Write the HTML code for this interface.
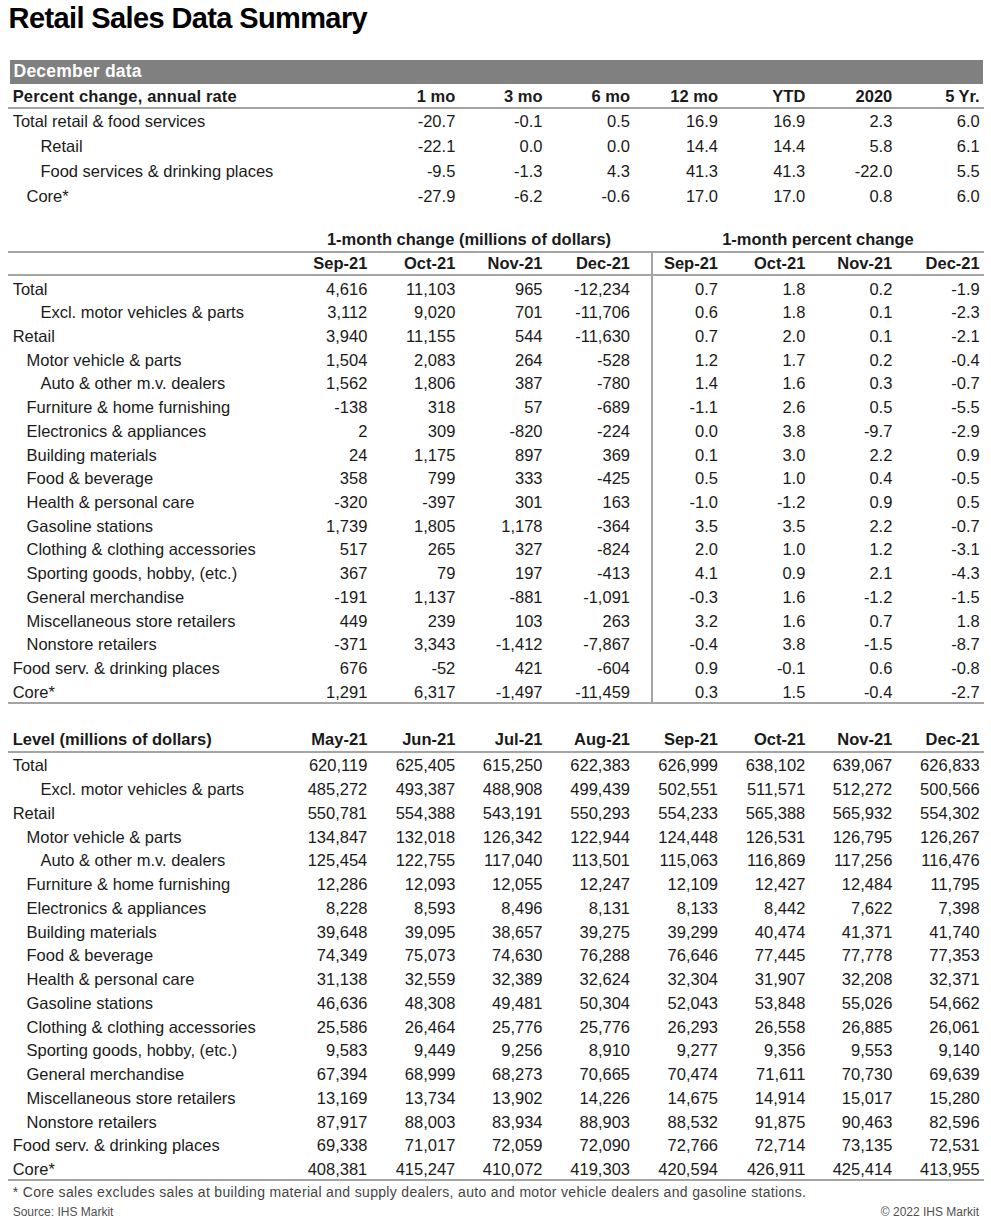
<!DOCTYPE html>
<html><head><meta charset="utf-8"><title>Retail Sales Data Summary</title>
<style>
html,body{margin:0;padding:0;background:#fff;}
body{width:991px;height:1224px;position:relative;overflow:hidden;font-family:"Liberation Sans",sans-serif;}
.t{position:absolute;white-space:nowrap;line-height:24px;}
.r{text-align:right;}
.c{text-align:center;}
.l{position:absolute;}
</style></head><body>
<div class="t" style="left:8.60px;top:5.85px;font-size:29px;font-weight:700;color:#000;letter-spacing:-0.62px">Retail Sales Data Summary</div>
<div class="l" style="left:10px;top:59.5px;width:972.5px;height:24.2px;background:#808080"></div>
<div class="t" style="left:13.60px;top:58.94px;font-size:17.5px;font-weight:700;color:#fff;letter-spacing:0.2px">December data</div>
<div class="t" style="left:12.70px;top:83.98px;font-size:16.5px;font-weight:700;color:#1a1a1a;letter-spacing:0.15px">Percent change, annual rate</div>
<div class="t r" style="right:535.70px;top:83.98px;font-size:16.5px;font-weight:700;color:#1a1a1a;">1 mo</div>
<div class="t r" style="right:448.50px;top:83.98px;font-size:16.5px;font-weight:700;color:#1a1a1a;">3 mo</div>
<div class="t r" style="right:361.00px;top:83.98px;font-size:16.5px;font-weight:700;color:#1a1a1a;">6 mo</div>
<div class="t r" style="right:273.00px;top:83.98px;font-size:16.5px;font-weight:700;color:#1a1a1a;">12 mo</div>
<div class="t r" style="right:185.70px;top:83.98px;font-size:16.5px;font-weight:700;color:#1a1a1a;">YTD</div>
<div class="t r" style="right:98.70px;top:83.98px;font-size:16.5px;font-weight:700;color:#1a1a1a;">2020</div>
<div class="t r" style="right:11.30px;top:83.98px;font-size:16.5px;font-weight:700;color:#1a1a1a;">5 Yr.</div>
<div class="l" style="left:8px;top:107.30px;width:975.50px;height:2px;background:#a4a4a4"></div>
<div class="t" style="left:12.70px;top:108.98px;font-size:16.5px;font-weight:400;color:#1a1a1a;">Total retail &amp; food services</div>
<div class="t r" style="right:535.70px;top:108.98px;font-size:16.5px;font-weight:400;color:#1a1a1a;">-20.7</div>
<div class="t r" style="right:448.50px;top:108.98px;font-size:16.5px;font-weight:400;color:#1a1a1a;">-0.1</div>
<div class="t r" style="right:361.00px;top:108.98px;font-size:16.5px;font-weight:400;color:#1a1a1a;">0.5</div>
<div class="t r" style="right:273.00px;top:108.98px;font-size:16.5px;font-weight:400;color:#1a1a1a;">16.9</div>
<div class="t r" style="right:185.70px;top:108.98px;font-size:16.5px;font-weight:400;color:#1a1a1a;">16.9</div>
<div class="t r" style="right:98.70px;top:108.98px;font-size:16.5px;font-weight:400;color:#1a1a1a;">2.3</div>
<div class="t r" style="right:11.30px;top:108.98px;font-size:16.5px;font-weight:400;color:#1a1a1a;">6.0</div>
<div class="t" style="left:40.40px;top:134.28px;font-size:16.5px;font-weight:400;color:#1a1a1a;">Retail</div>
<div class="t r" style="right:535.70px;top:134.28px;font-size:16.5px;font-weight:400;color:#1a1a1a;">-22.1</div>
<div class="t r" style="right:448.50px;top:134.28px;font-size:16.5px;font-weight:400;color:#1a1a1a;">0.0</div>
<div class="t r" style="right:361.00px;top:134.28px;font-size:16.5px;font-weight:400;color:#1a1a1a;">0.0</div>
<div class="t r" style="right:273.00px;top:134.28px;font-size:16.5px;font-weight:400;color:#1a1a1a;">14.4</div>
<div class="t r" style="right:185.70px;top:134.28px;font-size:16.5px;font-weight:400;color:#1a1a1a;">14.4</div>
<div class="t r" style="right:98.70px;top:134.28px;font-size:16.5px;font-weight:400;color:#1a1a1a;">5.8</div>
<div class="t r" style="right:11.30px;top:134.28px;font-size:16.5px;font-weight:400;color:#1a1a1a;">6.1</div>
<div class="t" style="left:40.40px;top:159.28px;font-size:16.5px;font-weight:400;color:#1a1a1a;">Food services &amp; drinking places</div>
<div class="t r" style="right:535.70px;top:159.28px;font-size:16.5px;font-weight:400;color:#1a1a1a;">-9.5</div>
<div class="t r" style="right:448.50px;top:159.28px;font-size:16.5px;font-weight:400;color:#1a1a1a;">-1.3</div>
<div class="t r" style="right:361.00px;top:159.28px;font-size:16.5px;font-weight:400;color:#1a1a1a;">4.3</div>
<div class="t r" style="right:273.00px;top:159.28px;font-size:16.5px;font-weight:400;color:#1a1a1a;">41.3</div>
<div class="t r" style="right:185.70px;top:159.28px;font-size:16.5px;font-weight:400;color:#1a1a1a;">41.3</div>
<div class="t r" style="right:98.70px;top:159.28px;font-size:16.5px;font-weight:400;color:#1a1a1a;">-22.0</div>
<div class="t r" style="right:11.30px;top:159.28px;font-size:16.5px;font-weight:400;color:#1a1a1a;">5.5</div>
<div class="t" style="left:26.50px;top:184.38px;font-size:16.5px;font-weight:400;color:#1a1a1a;">Core*</div>
<div class="t r" style="right:535.70px;top:184.38px;font-size:16.5px;font-weight:400;color:#1a1a1a;">-27.9</div>
<div class="t r" style="right:448.50px;top:184.38px;font-size:16.5px;font-weight:400;color:#1a1a1a;">-6.2</div>
<div class="t r" style="right:361.00px;top:184.38px;font-size:16.5px;font-weight:400;color:#1a1a1a;">-0.6</div>
<div class="t r" style="right:273.00px;top:184.38px;font-size:16.5px;font-weight:400;color:#1a1a1a;">17.0</div>
<div class="t r" style="right:185.70px;top:184.38px;font-size:16.5px;font-weight:400;color:#1a1a1a;">17.0</div>
<div class="t r" style="right:98.70px;top:184.38px;font-size:16.5px;font-weight:400;color:#1a1a1a;">0.8</div>
<div class="t r" style="right:11.30px;top:184.38px;font-size:16.5px;font-weight:400;color:#1a1a1a;">6.0</div>
<div class="t c" style="left:169.00px;width:600px;top:227.08px;font-size:16.5px;font-weight:700;color:#1a1a1a;">1-month change (millions of dollars)</div>
<div class="t c" style="left:518.00px;width:600px;top:227.08px;font-size:16.5px;font-weight:700;color:#1a1a1a;">1-month percent change</div>
<div class="l" style="left:8px;top:250.50px;width:975.50px;height:2px;background:#a4a4a4"></div>
<div class="t r" style="right:623.70px;top:251.28px;font-size:16.5px;font-weight:700;color:#1a1a1a;">Sep-21</div>
<div class="t r" style="right:535.70px;top:251.28px;font-size:16.5px;font-weight:700;color:#1a1a1a;">Oct-21</div>
<div class="t r" style="right:448.50px;top:251.28px;font-size:16.5px;font-weight:700;color:#1a1a1a;">Nov-21</div>
<div class="t r" style="right:361.00px;top:251.28px;font-size:16.5px;font-weight:700;color:#1a1a1a;">Dec-21</div>
<div class="t r" style="right:273.00px;top:251.28px;font-size:16.5px;font-weight:700;color:#1a1a1a;">Sep-21</div>
<div class="t r" style="right:185.70px;top:251.28px;font-size:16.5px;font-weight:700;color:#1a1a1a;">Oct-21</div>
<div class="t r" style="right:98.70px;top:251.28px;font-size:16.5px;font-weight:700;color:#1a1a1a;">Nov-21</div>
<div class="t r" style="right:11.30px;top:251.28px;font-size:16.5px;font-weight:700;color:#1a1a1a;">Dec-21</div>
<div class="l" style="left:8px;top:274.30px;width:975.50px;height:2px;background:#a4a4a4"></div>
<div class="l" style="left:651.00px;top:251.00px;width:2px;height:452.00px;background:#a4a4a4"></div>
<div class="t" style="left:12.70px;top:276.58px;font-size:16.5px;font-weight:400;color:#1a1a1a;">Total</div>
<div class="t r" style="right:623.70px;top:276.58px;font-size:16.5px;font-weight:400;color:#1a1a1a;">4,616</div>
<div class="t r" style="right:535.70px;top:276.58px;font-size:16.5px;font-weight:400;color:#1a1a1a;">11,103</div>
<div class="t r" style="right:448.50px;top:276.58px;font-size:16.5px;font-weight:400;color:#1a1a1a;">965</div>
<div class="t r" style="right:361.00px;top:276.58px;font-size:16.5px;font-weight:400;color:#1a1a1a;">-12,234</div>
<div class="t r" style="right:273.00px;top:276.58px;font-size:16.5px;font-weight:400;color:#1a1a1a;">0.7</div>
<div class="t r" style="right:185.70px;top:276.58px;font-size:16.5px;font-weight:400;color:#1a1a1a;">1.8</div>
<div class="t r" style="right:98.70px;top:276.58px;font-size:16.5px;font-weight:400;color:#1a1a1a;">0.2</div>
<div class="t r" style="right:11.30px;top:276.58px;font-size:16.5px;font-weight:400;color:#1a1a1a;">-1.9</div>
<div class="t" style="left:40.40px;top:300.29px;font-size:16.5px;font-weight:400;color:#1a1a1a;">Excl. motor vehicles &amp; parts</div>
<div class="t r" style="right:623.70px;top:300.29px;font-size:16.5px;font-weight:400;color:#1a1a1a;">3,112</div>
<div class="t r" style="right:535.70px;top:300.29px;font-size:16.5px;font-weight:400;color:#1a1a1a;">9,020</div>
<div class="t r" style="right:448.50px;top:300.29px;font-size:16.5px;font-weight:400;color:#1a1a1a;">701</div>
<div class="t r" style="right:361.00px;top:300.29px;font-size:16.5px;font-weight:400;color:#1a1a1a;">-11,706</div>
<div class="t r" style="right:273.00px;top:300.29px;font-size:16.5px;font-weight:400;color:#1a1a1a;">0.6</div>
<div class="t r" style="right:185.70px;top:300.29px;font-size:16.5px;font-weight:400;color:#1a1a1a;">1.8</div>
<div class="t r" style="right:98.70px;top:300.29px;font-size:16.5px;font-weight:400;color:#1a1a1a;">0.1</div>
<div class="t r" style="right:11.30px;top:300.29px;font-size:16.5px;font-weight:400;color:#1a1a1a;">-2.3</div>
<div class="t" style="left:12.70px;top:324.00px;font-size:16.5px;font-weight:400;color:#1a1a1a;">Retail</div>
<div class="t r" style="right:623.70px;top:324.00px;font-size:16.5px;font-weight:400;color:#1a1a1a;">3,940</div>
<div class="t r" style="right:535.70px;top:324.00px;font-size:16.5px;font-weight:400;color:#1a1a1a;">11,155</div>
<div class="t r" style="right:448.50px;top:324.00px;font-size:16.5px;font-weight:400;color:#1a1a1a;">544</div>
<div class="t r" style="right:361.00px;top:324.00px;font-size:16.5px;font-weight:400;color:#1a1a1a;">-11,630</div>
<div class="t r" style="right:273.00px;top:324.00px;font-size:16.5px;font-weight:400;color:#1a1a1a;">0.7</div>
<div class="t r" style="right:185.70px;top:324.00px;font-size:16.5px;font-weight:400;color:#1a1a1a;">2.0</div>
<div class="t r" style="right:98.70px;top:324.00px;font-size:16.5px;font-weight:400;color:#1a1a1a;">0.1</div>
<div class="t r" style="right:11.30px;top:324.00px;font-size:16.5px;font-weight:400;color:#1a1a1a;">-2.1</div>
<div class="t" style="left:26.50px;top:347.71px;font-size:16.5px;font-weight:400;color:#1a1a1a;">Motor vehicle &amp; parts</div>
<div class="t r" style="right:623.70px;top:347.71px;font-size:16.5px;font-weight:400;color:#1a1a1a;">1,504</div>
<div class="t r" style="right:535.70px;top:347.71px;font-size:16.5px;font-weight:400;color:#1a1a1a;">2,083</div>
<div class="t r" style="right:448.50px;top:347.71px;font-size:16.5px;font-weight:400;color:#1a1a1a;">264</div>
<div class="t r" style="right:361.00px;top:347.71px;font-size:16.5px;font-weight:400;color:#1a1a1a;">-528</div>
<div class="t r" style="right:273.00px;top:347.71px;font-size:16.5px;font-weight:400;color:#1a1a1a;">1.2</div>
<div class="t r" style="right:185.70px;top:347.71px;font-size:16.5px;font-weight:400;color:#1a1a1a;">1.7</div>
<div class="t r" style="right:98.70px;top:347.71px;font-size:16.5px;font-weight:400;color:#1a1a1a;">0.2</div>
<div class="t r" style="right:11.30px;top:347.71px;font-size:16.5px;font-weight:400;color:#1a1a1a;">-0.4</div>
<div class="t" style="left:40.40px;top:371.42px;font-size:16.5px;font-weight:400;color:#1a1a1a;">Auto &amp; other m.v. dealers</div>
<div class="t r" style="right:623.70px;top:371.42px;font-size:16.5px;font-weight:400;color:#1a1a1a;">1,562</div>
<div class="t r" style="right:535.70px;top:371.42px;font-size:16.5px;font-weight:400;color:#1a1a1a;">1,806</div>
<div class="t r" style="right:448.50px;top:371.42px;font-size:16.5px;font-weight:400;color:#1a1a1a;">387</div>
<div class="t r" style="right:361.00px;top:371.42px;font-size:16.5px;font-weight:400;color:#1a1a1a;">-780</div>
<div class="t r" style="right:273.00px;top:371.42px;font-size:16.5px;font-weight:400;color:#1a1a1a;">1.4</div>
<div class="t r" style="right:185.70px;top:371.42px;font-size:16.5px;font-weight:400;color:#1a1a1a;">1.6</div>
<div class="t r" style="right:98.70px;top:371.42px;font-size:16.5px;font-weight:400;color:#1a1a1a;">0.3</div>
<div class="t r" style="right:11.30px;top:371.42px;font-size:16.5px;font-weight:400;color:#1a1a1a;">-0.7</div>
<div class="t" style="left:26.50px;top:395.13px;font-size:16.5px;font-weight:400;color:#1a1a1a;">Furniture &amp; home furnishing</div>
<div class="t r" style="right:623.70px;top:395.13px;font-size:16.5px;font-weight:400;color:#1a1a1a;">-138</div>
<div class="t r" style="right:535.70px;top:395.13px;font-size:16.5px;font-weight:400;color:#1a1a1a;">318</div>
<div class="t r" style="right:448.50px;top:395.13px;font-size:16.5px;font-weight:400;color:#1a1a1a;">57</div>
<div class="t r" style="right:361.00px;top:395.13px;font-size:16.5px;font-weight:400;color:#1a1a1a;">-689</div>
<div class="t r" style="right:273.00px;top:395.13px;font-size:16.5px;font-weight:400;color:#1a1a1a;">-1.1</div>
<div class="t r" style="right:185.70px;top:395.13px;font-size:16.5px;font-weight:400;color:#1a1a1a;">2.6</div>
<div class="t r" style="right:98.70px;top:395.13px;font-size:16.5px;font-weight:400;color:#1a1a1a;">0.5</div>
<div class="t r" style="right:11.30px;top:395.13px;font-size:16.5px;font-weight:400;color:#1a1a1a;">-5.5</div>
<div class="t" style="left:26.50px;top:418.84px;font-size:16.5px;font-weight:400;color:#1a1a1a;">Electronics &amp; appliances</div>
<div class="t r" style="right:623.70px;top:418.84px;font-size:16.5px;font-weight:400;color:#1a1a1a;">2</div>
<div class="t r" style="right:535.70px;top:418.84px;font-size:16.5px;font-weight:400;color:#1a1a1a;">309</div>
<div class="t r" style="right:448.50px;top:418.84px;font-size:16.5px;font-weight:400;color:#1a1a1a;">-820</div>
<div class="t r" style="right:361.00px;top:418.84px;font-size:16.5px;font-weight:400;color:#1a1a1a;">-224</div>
<div class="t r" style="right:273.00px;top:418.84px;font-size:16.5px;font-weight:400;color:#1a1a1a;">0.0</div>
<div class="t r" style="right:185.70px;top:418.84px;font-size:16.5px;font-weight:400;color:#1a1a1a;">3.8</div>
<div class="t r" style="right:98.70px;top:418.84px;font-size:16.5px;font-weight:400;color:#1a1a1a;">-9.7</div>
<div class="t r" style="right:11.30px;top:418.84px;font-size:16.5px;font-weight:400;color:#1a1a1a;">-2.9</div>
<div class="t" style="left:26.50px;top:442.55px;font-size:16.5px;font-weight:400;color:#1a1a1a;">Building materials</div>
<div class="t r" style="right:623.70px;top:442.55px;font-size:16.5px;font-weight:400;color:#1a1a1a;">24</div>
<div class="t r" style="right:535.70px;top:442.55px;font-size:16.5px;font-weight:400;color:#1a1a1a;">1,175</div>
<div class="t r" style="right:448.50px;top:442.55px;font-size:16.5px;font-weight:400;color:#1a1a1a;">897</div>
<div class="t r" style="right:361.00px;top:442.55px;font-size:16.5px;font-weight:400;color:#1a1a1a;">369</div>
<div class="t r" style="right:273.00px;top:442.55px;font-size:16.5px;font-weight:400;color:#1a1a1a;">0.1</div>
<div class="t r" style="right:185.70px;top:442.55px;font-size:16.5px;font-weight:400;color:#1a1a1a;">3.0</div>
<div class="t r" style="right:98.70px;top:442.55px;font-size:16.5px;font-weight:400;color:#1a1a1a;">2.2</div>
<div class="t r" style="right:11.30px;top:442.55px;font-size:16.5px;font-weight:400;color:#1a1a1a;">0.9</div>
<div class="t" style="left:26.50px;top:466.26px;font-size:16.5px;font-weight:400;color:#1a1a1a;">Food &amp; beverage</div>
<div class="t r" style="right:623.70px;top:466.26px;font-size:16.5px;font-weight:400;color:#1a1a1a;">358</div>
<div class="t r" style="right:535.70px;top:466.26px;font-size:16.5px;font-weight:400;color:#1a1a1a;">799</div>
<div class="t r" style="right:448.50px;top:466.26px;font-size:16.5px;font-weight:400;color:#1a1a1a;">333</div>
<div class="t r" style="right:361.00px;top:466.26px;font-size:16.5px;font-weight:400;color:#1a1a1a;">-425</div>
<div class="t r" style="right:273.00px;top:466.26px;font-size:16.5px;font-weight:400;color:#1a1a1a;">0.5</div>
<div class="t r" style="right:185.70px;top:466.26px;font-size:16.5px;font-weight:400;color:#1a1a1a;">1.0</div>
<div class="t r" style="right:98.70px;top:466.26px;font-size:16.5px;font-weight:400;color:#1a1a1a;">0.4</div>
<div class="t r" style="right:11.30px;top:466.26px;font-size:16.5px;font-weight:400;color:#1a1a1a;">-0.5</div>
<div class="t" style="left:26.50px;top:489.97px;font-size:16.5px;font-weight:400;color:#1a1a1a;">Health &amp; personal care</div>
<div class="t r" style="right:623.70px;top:489.97px;font-size:16.5px;font-weight:400;color:#1a1a1a;">-320</div>
<div class="t r" style="right:535.70px;top:489.97px;font-size:16.5px;font-weight:400;color:#1a1a1a;">-397</div>
<div class="t r" style="right:448.50px;top:489.97px;font-size:16.5px;font-weight:400;color:#1a1a1a;">301</div>
<div class="t r" style="right:361.00px;top:489.97px;font-size:16.5px;font-weight:400;color:#1a1a1a;">163</div>
<div class="t r" style="right:273.00px;top:489.97px;font-size:16.5px;font-weight:400;color:#1a1a1a;">-1.0</div>
<div class="t r" style="right:185.70px;top:489.97px;font-size:16.5px;font-weight:400;color:#1a1a1a;">-1.2</div>
<div class="t r" style="right:98.70px;top:489.97px;font-size:16.5px;font-weight:400;color:#1a1a1a;">0.9</div>
<div class="t r" style="right:11.30px;top:489.97px;font-size:16.5px;font-weight:400;color:#1a1a1a;">0.5</div>
<div class="t" style="left:26.50px;top:513.68px;font-size:16.5px;font-weight:400;color:#1a1a1a;">Gasoline stations</div>
<div class="t r" style="right:623.70px;top:513.68px;font-size:16.5px;font-weight:400;color:#1a1a1a;">1,739</div>
<div class="t r" style="right:535.70px;top:513.68px;font-size:16.5px;font-weight:400;color:#1a1a1a;">1,805</div>
<div class="t r" style="right:448.50px;top:513.68px;font-size:16.5px;font-weight:400;color:#1a1a1a;">1,178</div>
<div class="t r" style="right:361.00px;top:513.68px;font-size:16.5px;font-weight:400;color:#1a1a1a;">-364</div>
<div class="t r" style="right:273.00px;top:513.68px;font-size:16.5px;font-weight:400;color:#1a1a1a;">3.5</div>
<div class="t r" style="right:185.70px;top:513.68px;font-size:16.5px;font-weight:400;color:#1a1a1a;">3.5</div>
<div class="t r" style="right:98.70px;top:513.68px;font-size:16.5px;font-weight:400;color:#1a1a1a;">2.2</div>
<div class="t r" style="right:11.30px;top:513.68px;font-size:16.5px;font-weight:400;color:#1a1a1a;">-0.7</div>
<div class="t" style="left:26.50px;top:537.39px;font-size:16.5px;font-weight:400;color:#1a1a1a;">Clothing &amp; clothing accessories</div>
<div class="t r" style="right:623.70px;top:537.39px;font-size:16.5px;font-weight:400;color:#1a1a1a;">517</div>
<div class="t r" style="right:535.70px;top:537.39px;font-size:16.5px;font-weight:400;color:#1a1a1a;">265</div>
<div class="t r" style="right:448.50px;top:537.39px;font-size:16.5px;font-weight:400;color:#1a1a1a;">327</div>
<div class="t r" style="right:361.00px;top:537.39px;font-size:16.5px;font-weight:400;color:#1a1a1a;">-824</div>
<div class="t r" style="right:273.00px;top:537.39px;font-size:16.5px;font-weight:400;color:#1a1a1a;">2.0</div>
<div class="t r" style="right:185.70px;top:537.39px;font-size:16.5px;font-weight:400;color:#1a1a1a;">1.0</div>
<div class="t r" style="right:98.70px;top:537.39px;font-size:16.5px;font-weight:400;color:#1a1a1a;">1.2</div>
<div class="t r" style="right:11.30px;top:537.39px;font-size:16.5px;font-weight:400;color:#1a1a1a;">-3.1</div>
<div class="t" style="left:26.50px;top:561.10px;font-size:16.5px;font-weight:400;color:#1a1a1a;">Sporting goods, hobby, (etc.)</div>
<div class="t r" style="right:623.70px;top:561.10px;font-size:16.5px;font-weight:400;color:#1a1a1a;">367</div>
<div class="t r" style="right:535.70px;top:561.10px;font-size:16.5px;font-weight:400;color:#1a1a1a;">79</div>
<div class="t r" style="right:448.50px;top:561.10px;font-size:16.5px;font-weight:400;color:#1a1a1a;">197</div>
<div class="t r" style="right:361.00px;top:561.10px;font-size:16.5px;font-weight:400;color:#1a1a1a;">-413</div>
<div class="t r" style="right:273.00px;top:561.10px;font-size:16.5px;font-weight:400;color:#1a1a1a;">4.1</div>
<div class="t r" style="right:185.70px;top:561.10px;font-size:16.5px;font-weight:400;color:#1a1a1a;">0.9</div>
<div class="t r" style="right:98.70px;top:561.10px;font-size:16.5px;font-weight:400;color:#1a1a1a;">2.1</div>
<div class="t r" style="right:11.30px;top:561.10px;font-size:16.5px;font-weight:400;color:#1a1a1a;">-4.3</div>
<div class="t" style="left:26.50px;top:584.81px;font-size:16.5px;font-weight:400;color:#1a1a1a;">General merchandise</div>
<div class="t r" style="right:623.70px;top:584.81px;font-size:16.5px;font-weight:400;color:#1a1a1a;">-191</div>
<div class="t r" style="right:535.70px;top:584.81px;font-size:16.5px;font-weight:400;color:#1a1a1a;">1,137</div>
<div class="t r" style="right:448.50px;top:584.81px;font-size:16.5px;font-weight:400;color:#1a1a1a;">-881</div>
<div class="t r" style="right:361.00px;top:584.81px;font-size:16.5px;font-weight:400;color:#1a1a1a;">-1,091</div>
<div class="t r" style="right:273.00px;top:584.81px;font-size:16.5px;font-weight:400;color:#1a1a1a;">-0.3</div>
<div class="t r" style="right:185.70px;top:584.81px;font-size:16.5px;font-weight:400;color:#1a1a1a;">1.6</div>
<div class="t r" style="right:98.70px;top:584.81px;font-size:16.5px;font-weight:400;color:#1a1a1a;">-1.2</div>
<div class="t r" style="right:11.30px;top:584.81px;font-size:16.5px;font-weight:400;color:#1a1a1a;">-1.5</div>
<div class="t" style="left:26.50px;top:608.52px;font-size:16.5px;font-weight:400;color:#1a1a1a;">Miscellaneous store retailers</div>
<div class="t r" style="right:623.70px;top:608.52px;font-size:16.5px;font-weight:400;color:#1a1a1a;">449</div>
<div class="t r" style="right:535.70px;top:608.52px;font-size:16.5px;font-weight:400;color:#1a1a1a;">239</div>
<div class="t r" style="right:448.50px;top:608.52px;font-size:16.5px;font-weight:400;color:#1a1a1a;">103</div>
<div class="t r" style="right:361.00px;top:608.52px;font-size:16.5px;font-weight:400;color:#1a1a1a;">263</div>
<div class="t r" style="right:273.00px;top:608.52px;font-size:16.5px;font-weight:400;color:#1a1a1a;">3.2</div>
<div class="t r" style="right:185.70px;top:608.52px;font-size:16.5px;font-weight:400;color:#1a1a1a;">1.6</div>
<div class="t r" style="right:98.70px;top:608.52px;font-size:16.5px;font-weight:400;color:#1a1a1a;">0.7</div>
<div class="t r" style="right:11.30px;top:608.52px;font-size:16.5px;font-weight:400;color:#1a1a1a;">1.8</div>
<div class="t" style="left:26.50px;top:632.23px;font-size:16.5px;font-weight:400;color:#1a1a1a;">Nonstore retailers</div>
<div class="t r" style="right:623.70px;top:632.23px;font-size:16.5px;font-weight:400;color:#1a1a1a;">-371</div>
<div class="t r" style="right:535.70px;top:632.23px;font-size:16.5px;font-weight:400;color:#1a1a1a;">3,343</div>
<div class="t r" style="right:448.50px;top:632.23px;font-size:16.5px;font-weight:400;color:#1a1a1a;">-1,412</div>
<div class="t r" style="right:361.00px;top:632.23px;font-size:16.5px;font-weight:400;color:#1a1a1a;">-7,867</div>
<div class="t r" style="right:273.00px;top:632.23px;font-size:16.5px;font-weight:400;color:#1a1a1a;">-0.4</div>
<div class="t r" style="right:185.70px;top:632.23px;font-size:16.5px;font-weight:400;color:#1a1a1a;">3.8</div>
<div class="t r" style="right:98.70px;top:632.23px;font-size:16.5px;font-weight:400;color:#1a1a1a;">-1.5</div>
<div class="t r" style="right:11.30px;top:632.23px;font-size:16.5px;font-weight:400;color:#1a1a1a;">-8.7</div>
<div class="t" style="left:12.70px;top:655.94px;font-size:16.5px;font-weight:400;color:#1a1a1a;">Food serv. &amp; drinking places</div>
<div class="t r" style="right:623.70px;top:655.94px;font-size:16.5px;font-weight:400;color:#1a1a1a;">676</div>
<div class="t r" style="right:535.70px;top:655.94px;font-size:16.5px;font-weight:400;color:#1a1a1a;">-52</div>
<div class="t r" style="right:448.50px;top:655.94px;font-size:16.5px;font-weight:400;color:#1a1a1a;">421</div>
<div class="t r" style="right:361.00px;top:655.94px;font-size:16.5px;font-weight:400;color:#1a1a1a;">-604</div>
<div class="t r" style="right:273.00px;top:655.94px;font-size:16.5px;font-weight:400;color:#1a1a1a;">0.9</div>
<div class="t r" style="right:185.70px;top:655.94px;font-size:16.5px;font-weight:400;color:#1a1a1a;">-0.1</div>
<div class="t r" style="right:98.70px;top:655.94px;font-size:16.5px;font-weight:400;color:#1a1a1a;">0.6</div>
<div class="t r" style="right:11.30px;top:655.94px;font-size:16.5px;font-weight:400;color:#1a1a1a;">-0.8</div>
<div class="t" style="left:12.70px;top:679.65px;font-size:16.5px;font-weight:400;color:#1a1a1a;">Core*</div>
<div class="t r" style="right:623.70px;top:679.65px;font-size:16.5px;font-weight:400;color:#1a1a1a;">1,291</div>
<div class="t r" style="right:535.70px;top:679.65px;font-size:16.5px;font-weight:400;color:#1a1a1a;">6,317</div>
<div class="t r" style="right:448.50px;top:679.65px;font-size:16.5px;font-weight:400;color:#1a1a1a;">-1,497</div>
<div class="t r" style="right:361.00px;top:679.65px;font-size:16.5px;font-weight:400;color:#1a1a1a;">-11,459</div>
<div class="t r" style="right:273.00px;top:679.65px;font-size:16.5px;font-weight:400;color:#1a1a1a;">0.3</div>
<div class="t r" style="right:185.70px;top:679.65px;font-size:16.5px;font-weight:400;color:#1a1a1a;">1.5</div>
<div class="t r" style="right:98.70px;top:679.65px;font-size:16.5px;font-weight:400;color:#1a1a1a;">-0.4</div>
<div class="t r" style="right:11.30px;top:679.65px;font-size:16.5px;font-weight:400;color:#1a1a1a;">-2.7</div>
<div class="l" style="left:8px;top:701.90px;width:975.50px;height:2px;background:#a4a4a4"></div>
<div class="t" style="left:12.70px;top:727.48px;font-size:16.5px;font-weight:700;color:#1a1a1a;">Level (millions of dollars)</div>
<div class="t r" style="right:623.70px;top:727.48px;font-size:16.5px;font-weight:700;color:#1a1a1a;">May-21</div>
<div class="t r" style="right:535.70px;top:727.48px;font-size:16.5px;font-weight:700;color:#1a1a1a;">Jun-21</div>
<div class="t r" style="right:448.50px;top:727.48px;font-size:16.5px;font-weight:700;color:#1a1a1a;">Jul-21</div>
<div class="t r" style="right:361.00px;top:727.48px;font-size:16.5px;font-weight:700;color:#1a1a1a;">Aug-21</div>
<div class="t r" style="right:273.00px;top:727.48px;font-size:16.5px;font-weight:700;color:#1a1a1a;">Sep-21</div>
<div class="t r" style="right:185.70px;top:727.48px;font-size:16.5px;font-weight:700;color:#1a1a1a;">Oct-21</div>
<div class="t r" style="right:98.70px;top:727.48px;font-size:16.5px;font-weight:700;color:#1a1a1a;">Nov-21</div>
<div class="t r" style="right:11.30px;top:727.48px;font-size:16.5px;font-weight:700;color:#1a1a1a;">Dec-21</div>
<div class="l" style="left:8px;top:750.90px;width:975.50px;height:2px;background:#a4a4a4"></div>
<div class="t" style="left:12.70px;top:753.38px;font-size:16.5px;font-weight:400;color:#1a1a1a;">Total</div>
<div class="t r" style="right:623.70px;top:753.38px;font-size:16.5px;font-weight:400;color:#1a1a1a;">620,119</div>
<div class="t r" style="right:535.70px;top:753.38px;font-size:16.5px;font-weight:400;color:#1a1a1a;">625,405</div>
<div class="t r" style="right:448.50px;top:753.38px;font-size:16.5px;font-weight:400;color:#1a1a1a;">615,250</div>
<div class="t r" style="right:361.00px;top:753.38px;font-size:16.5px;font-weight:400;color:#1a1a1a;">622,383</div>
<div class="t r" style="right:273.00px;top:753.38px;font-size:16.5px;font-weight:400;color:#1a1a1a;">626,999</div>
<div class="t r" style="right:185.70px;top:753.38px;font-size:16.5px;font-weight:400;color:#1a1a1a;">638,102</div>
<div class="t r" style="right:98.70px;top:753.38px;font-size:16.5px;font-weight:400;color:#1a1a1a;">639,067</div>
<div class="t r" style="right:11.30px;top:753.38px;font-size:16.5px;font-weight:400;color:#1a1a1a;">626,833</div>
<div class="t" style="left:40.40px;top:777.13px;font-size:16.5px;font-weight:400;color:#1a1a1a;">Excl. motor vehicles &amp; parts</div>
<div class="t r" style="right:623.70px;top:777.13px;font-size:16.5px;font-weight:400;color:#1a1a1a;">485,272</div>
<div class="t r" style="right:535.70px;top:777.13px;font-size:16.5px;font-weight:400;color:#1a1a1a;">493,387</div>
<div class="t r" style="right:448.50px;top:777.13px;font-size:16.5px;font-weight:400;color:#1a1a1a;">488,908</div>
<div class="t r" style="right:361.00px;top:777.13px;font-size:16.5px;font-weight:400;color:#1a1a1a;">499,439</div>
<div class="t r" style="right:273.00px;top:777.13px;font-size:16.5px;font-weight:400;color:#1a1a1a;">502,551</div>
<div class="t r" style="right:185.70px;top:777.13px;font-size:16.5px;font-weight:400;color:#1a1a1a;">511,571</div>
<div class="t r" style="right:98.70px;top:777.13px;font-size:16.5px;font-weight:400;color:#1a1a1a;">512,272</div>
<div class="t r" style="right:11.30px;top:777.13px;font-size:16.5px;font-weight:400;color:#1a1a1a;">500,566</div>
<div class="t" style="left:12.70px;top:800.88px;font-size:16.5px;font-weight:400;color:#1a1a1a;">Retail</div>
<div class="t r" style="right:623.70px;top:800.88px;font-size:16.5px;font-weight:400;color:#1a1a1a;">550,781</div>
<div class="t r" style="right:535.70px;top:800.88px;font-size:16.5px;font-weight:400;color:#1a1a1a;">554,388</div>
<div class="t r" style="right:448.50px;top:800.88px;font-size:16.5px;font-weight:400;color:#1a1a1a;">543,191</div>
<div class="t r" style="right:361.00px;top:800.88px;font-size:16.5px;font-weight:400;color:#1a1a1a;">550,293</div>
<div class="t r" style="right:273.00px;top:800.88px;font-size:16.5px;font-weight:400;color:#1a1a1a;">554,233</div>
<div class="t r" style="right:185.70px;top:800.88px;font-size:16.5px;font-weight:400;color:#1a1a1a;">565,388</div>
<div class="t r" style="right:98.70px;top:800.88px;font-size:16.5px;font-weight:400;color:#1a1a1a;">565,932</div>
<div class="t r" style="right:11.30px;top:800.88px;font-size:16.5px;font-weight:400;color:#1a1a1a;">554,302</div>
<div class="t" style="left:26.50px;top:824.63px;font-size:16.5px;font-weight:400;color:#1a1a1a;">Motor vehicle &amp; parts</div>
<div class="t r" style="right:623.70px;top:824.63px;font-size:16.5px;font-weight:400;color:#1a1a1a;">134,847</div>
<div class="t r" style="right:535.70px;top:824.63px;font-size:16.5px;font-weight:400;color:#1a1a1a;">132,018</div>
<div class="t r" style="right:448.50px;top:824.63px;font-size:16.5px;font-weight:400;color:#1a1a1a;">126,342</div>
<div class="t r" style="right:361.00px;top:824.63px;font-size:16.5px;font-weight:400;color:#1a1a1a;">122,944</div>
<div class="t r" style="right:273.00px;top:824.63px;font-size:16.5px;font-weight:400;color:#1a1a1a;">124,448</div>
<div class="t r" style="right:185.70px;top:824.63px;font-size:16.5px;font-weight:400;color:#1a1a1a;">126,531</div>
<div class="t r" style="right:98.70px;top:824.63px;font-size:16.5px;font-weight:400;color:#1a1a1a;">126,795</div>
<div class="t r" style="right:11.30px;top:824.63px;font-size:16.5px;font-weight:400;color:#1a1a1a;">126,267</div>
<div class="t" style="left:40.40px;top:848.38px;font-size:16.5px;font-weight:400;color:#1a1a1a;">Auto &amp; other m.v. dealers</div>
<div class="t r" style="right:623.70px;top:848.38px;font-size:16.5px;font-weight:400;color:#1a1a1a;">125,454</div>
<div class="t r" style="right:535.70px;top:848.38px;font-size:16.5px;font-weight:400;color:#1a1a1a;">122,755</div>
<div class="t r" style="right:448.50px;top:848.38px;font-size:16.5px;font-weight:400;color:#1a1a1a;">117,040</div>
<div class="t r" style="right:361.00px;top:848.38px;font-size:16.5px;font-weight:400;color:#1a1a1a;">113,501</div>
<div class="t r" style="right:273.00px;top:848.38px;font-size:16.5px;font-weight:400;color:#1a1a1a;">115,063</div>
<div class="t r" style="right:185.70px;top:848.38px;font-size:16.5px;font-weight:400;color:#1a1a1a;">116,869</div>
<div class="t r" style="right:98.70px;top:848.38px;font-size:16.5px;font-weight:400;color:#1a1a1a;">117,256</div>
<div class="t r" style="right:11.30px;top:848.38px;font-size:16.5px;font-weight:400;color:#1a1a1a;">116,476</div>
<div class="t" style="left:26.50px;top:872.13px;font-size:16.5px;font-weight:400;color:#1a1a1a;">Furniture &amp; home furnishing</div>
<div class="t r" style="right:623.70px;top:872.13px;font-size:16.5px;font-weight:400;color:#1a1a1a;">12,286</div>
<div class="t r" style="right:535.70px;top:872.13px;font-size:16.5px;font-weight:400;color:#1a1a1a;">12,093</div>
<div class="t r" style="right:448.50px;top:872.13px;font-size:16.5px;font-weight:400;color:#1a1a1a;">12,055</div>
<div class="t r" style="right:361.00px;top:872.13px;font-size:16.5px;font-weight:400;color:#1a1a1a;">12,247</div>
<div class="t r" style="right:273.00px;top:872.13px;font-size:16.5px;font-weight:400;color:#1a1a1a;">12,109</div>
<div class="t r" style="right:185.70px;top:872.13px;font-size:16.5px;font-weight:400;color:#1a1a1a;">12,427</div>
<div class="t r" style="right:98.70px;top:872.13px;font-size:16.5px;font-weight:400;color:#1a1a1a;">12,484</div>
<div class="t r" style="right:11.30px;top:872.13px;font-size:16.5px;font-weight:400;color:#1a1a1a;">11,795</div>
<div class="t" style="left:26.50px;top:895.88px;font-size:16.5px;font-weight:400;color:#1a1a1a;">Electronics &amp; appliances</div>
<div class="t r" style="right:623.70px;top:895.88px;font-size:16.5px;font-weight:400;color:#1a1a1a;">8,228</div>
<div class="t r" style="right:535.70px;top:895.88px;font-size:16.5px;font-weight:400;color:#1a1a1a;">8,593</div>
<div class="t r" style="right:448.50px;top:895.88px;font-size:16.5px;font-weight:400;color:#1a1a1a;">8,496</div>
<div class="t r" style="right:361.00px;top:895.88px;font-size:16.5px;font-weight:400;color:#1a1a1a;">8,131</div>
<div class="t r" style="right:273.00px;top:895.88px;font-size:16.5px;font-weight:400;color:#1a1a1a;">8,133</div>
<div class="t r" style="right:185.70px;top:895.88px;font-size:16.5px;font-weight:400;color:#1a1a1a;">8,442</div>
<div class="t r" style="right:98.70px;top:895.88px;font-size:16.5px;font-weight:400;color:#1a1a1a;">7,622</div>
<div class="t r" style="right:11.30px;top:895.88px;font-size:16.5px;font-weight:400;color:#1a1a1a;">7,398</div>
<div class="t" style="left:26.50px;top:919.63px;font-size:16.5px;font-weight:400;color:#1a1a1a;">Building materials</div>
<div class="t r" style="right:623.70px;top:919.63px;font-size:16.5px;font-weight:400;color:#1a1a1a;">39,648</div>
<div class="t r" style="right:535.70px;top:919.63px;font-size:16.5px;font-weight:400;color:#1a1a1a;">39,095</div>
<div class="t r" style="right:448.50px;top:919.63px;font-size:16.5px;font-weight:400;color:#1a1a1a;">38,657</div>
<div class="t r" style="right:361.00px;top:919.63px;font-size:16.5px;font-weight:400;color:#1a1a1a;">39,275</div>
<div class="t r" style="right:273.00px;top:919.63px;font-size:16.5px;font-weight:400;color:#1a1a1a;">39,299</div>
<div class="t r" style="right:185.70px;top:919.63px;font-size:16.5px;font-weight:400;color:#1a1a1a;">40,474</div>
<div class="t r" style="right:98.70px;top:919.63px;font-size:16.5px;font-weight:400;color:#1a1a1a;">41,371</div>
<div class="t r" style="right:11.30px;top:919.63px;font-size:16.5px;font-weight:400;color:#1a1a1a;">41,740</div>
<div class="t" style="left:26.50px;top:943.38px;font-size:16.5px;font-weight:400;color:#1a1a1a;">Food &amp; beverage</div>
<div class="t r" style="right:623.70px;top:943.38px;font-size:16.5px;font-weight:400;color:#1a1a1a;">74,349</div>
<div class="t r" style="right:535.70px;top:943.38px;font-size:16.5px;font-weight:400;color:#1a1a1a;">75,073</div>
<div class="t r" style="right:448.50px;top:943.38px;font-size:16.5px;font-weight:400;color:#1a1a1a;">74,630</div>
<div class="t r" style="right:361.00px;top:943.38px;font-size:16.5px;font-weight:400;color:#1a1a1a;">76,288</div>
<div class="t r" style="right:273.00px;top:943.38px;font-size:16.5px;font-weight:400;color:#1a1a1a;">76,646</div>
<div class="t r" style="right:185.70px;top:943.38px;font-size:16.5px;font-weight:400;color:#1a1a1a;">77,445</div>
<div class="t r" style="right:98.70px;top:943.38px;font-size:16.5px;font-weight:400;color:#1a1a1a;">77,778</div>
<div class="t r" style="right:11.30px;top:943.38px;font-size:16.5px;font-weight:400;color:#1a1a1a;">77,353</div>
<div class="t" style="left:26.50px;top:967.13px;font-size:16.5px;font-weight:400;color:#1a1a1a;">Health &amp; personal care</div>
<div class="t r" style="right:623.70px;top:967.13px;font-size:16.5px;font-weight:400;color:#1a1a1a;">31,138</div>
<div class="t r" style="right:535.70px;top:967.13px;font-size:16.5px;font-weight:400;color:#1a1a1a;">32,559</div>
<div class="t r" style="right:448.50px;top:967.13px;font-size:16.5px;font-weight:400;color:#1a1a1a;">32,389</div>
<div class="t r" style="right:361.00px;top:967.13px;font-size:16.5px;font-weight:400;color:#1a1a1a;">32,624</div>
<div class="t r" style="right:273.00px;top:967.13px;font-size:16.5px;font-weight:400;color:#1a1a1a;">32,304</div>
<div class="t r" style="right:185.70px;top:967.13px;font-size:16.5px;font-weight:400;color:#1a1a1a;">31,907</div>
<div class="t r" style="right:98.70px;top:967.13px;font-size:16.5px;font-weight:400;color:#1a1a1a;">32,208</div>
<div class="t r" style="right:11.30px;top:967.13px;font-size:16.5px;font-weight:400;color:#1a1a1a;">32,371</div>
<div class="t" style="left:26.50px;top:990.88px;font-size:16.5px;font-weight:400;color:#1a1a1a;">Gasoline stations</div>
<div class="t r" style="right:623.70px;top:990.88px;font-size:16.5px;font-weight:400;color:#1a1a1a;">46,636</div>
<div class="t r" style="right:535.70px;top:990.88px;font-size:16.5px;font-weight:400;color:#1a1a1a;">48,308</div>
<div class="t r" style="right:448.50px;top:990.88px;font-size:16.5px;font-weight:400;color:#1a1a1a;">49,481</div>
<div class="t r" style="right:361.00px;top:990.88px;font-size:16.5px;font-weight:400;color:#1a1a1a;">50,304</div>
<div class="t r" style="right:273.00px;top:990.88px;font-size:16.5px;font-weight:400;color:#1a1a1a;">52,043</div>
<div class="t r" style="right:185.70px;top:990.88px;font-size:16.5px;font-weight:400;color:#1a1a1a;">53,848</div>
<div class="t r" style="right:98.70px;top:990.88px;font-size:16.5px;font-weight:400;color:#1a1a1a;">55,026</div>
<div class="t r" style="right:11.30px;top:990.88px;font-size:16.5px;font-weight:400;color:#1a1a1a;">54,662</div>
<div class="t" style="left:26.50px;top:1014.63px;font-size:16.5px;font-weight:400;color:#1a1a1a;">Clothing &amp; clothing accessories</div>
<div class="t r" style="right:623.70px;top:1014.63px;font-size:16.5px;font-weight:400;color:#1a1a1a;">25,586</div>
<div class="t r" style="right:535.70px;top:1014.63px;font-size:16.5px;font-weight:400;color:#1a1a1a;">26,464</div>
<div class="t r" style="right:448.50px;top:1014.63px;font-size:16.5px;font-weight:400;color:#1a1a1a;">25,776</div>
<div class="t r" style="right:361.00px;top:1014.63px;font-size:16.5px;font-weight:400;color:#1a1a1a;">25,776</div>
<div class="t r" style="right:273.00px;top:1014.63px;font-size:16.5px;font-weight:400;color:#1a1a1a;">26,293</div>
<div class="t r" style="right:185.70px;top:1014.63px;font-size:16.5px;font-weight:400;color:#1a1a1a;">26,558</div>
<div class="t r" style="right:98.70px;top:1014.63px;font-size:16.5px;font-weight:400;color:#1a1a1a;">26,885</div>
<div class="t r" style="right:11.30px;top:1014.63px;font-size:16.5px;font-weight:400;color:#1a1a1a;">26,061</div>
<div class="t" style="left:26.50px;top:1038.38px;font-size:16.5px;font-weight:400;color:#1a1a1a;">Sporting goods, hobby, (etc.)</div>
<div class="t r" style="right:623.70px;top:1038.38px;font-size:16.5px;font-weight:400;color:#1a1a1a;">9,583</div>
<div class="t r" style="right:535.70px;top:1038.38px;font-size:16.5px;font-weight:400;color:#1a1a1a;">9,449</div>
<div class="t r" style="right:448.50px;top:1038.38px;font-size:16.5px;font-weight:400;color:#1a1a1a;">9,256</div>
<div class="t r" style="right:361.00px;top:1038.38px;font-size:16.5px;font-weight:400;color:#1a1a1a;">8,910</div>
<div class="t r" style="right:273.00px;top:1038.38px;font-size:16.5px;font-weight:400;color:#1a1a1a;">9,277</div>
<div class="t r" style="right:185.70px;top:1038.38px;font-size:16.5px;font-weight:400;color:#1a1a1a;">9,356</div>
<div class="t r" style="right:98.70px;top:1038.38px;font-size:16.5px;font-weight:400;color:#1a1a1a;">9,553</div>
<div class="t r" style="right:11.30px;top:1038.38px;font-size:16.5px;font-weight:400;color:#1a1a1a;">9,140</div>
<div class="t" style="left:26.50px;top:1062.13px;font-size:16.5px;font-weight:400;color:#1a1a1a;">General merchandise</div>
<div class="t r" style="right:623.70px;top:1062.13px;font-size:16.5px;font-weight:400;color:#1a1a1a;">67,394</div>
<div class="t r" style="right:535.70px;top:1062.13px;font-size:16.5px;font-weight:400;color:#1a1a1a;">68,999</div>
<div class="t r" style="right:448.50px;top:1062.13px;font-size:16.5px;font-weight:400;color:#1a1a1a;">68,273</div>
<div class="t r" style="right:361.00px;top:1062.13px;font-size:16.5px;font-weight:400;color:#1a1a1a;">70,665</div>
<div class="t r" style="right:273.00px;top:1062.13px;font-size:16.5px;font-weight:400;color:#1a1a1a;">70,474</div>
<div class="t r" style="right:185.70px;top:1062.13px;font-size:16.5px;font-weight:400;color:#1a1a1a;">71,611</div>
<div class="t r" style="right:98.70px;top:1062.13px;font-size:16.5px;font-weight:400;color:#1a1a1a;">70,730</div>
<div class="t r" style="right:11.30px;top:1062.13px;font-size:16.5px;font-weight:400;color:#1a1a1a;">69,639</div>
<div class="t" style="left:26.50px;top:1085.88px;font-size:16.5px;font-weight:400;color:#1a1a1a;">Miscellaneous store retailers</div>
<div class="t r" style="right:623.70px;top:1085.88px;font-size:16.5px;font-weight:400;color:#1a1a1a;">13,169</div>
<div class="t r" style="right:535.70px;top:1085.88px;font-size:16.5px;font-weight:400;color:#1a1a1a;">13,734</div>
<div class="t r" style="right:448.50px;top:1085.88px;font-size:16.5px;font-weight:400;color:#1a1a1a;">13,902</div>
<div class="t r" style="right:361.00px;top:1085.88px;font-size:16.5px;font-weight:400;color:#1a1a1a;">14,226</div>
<div class="t r" style="right:273.00px;top:1085.88px;font-size:16.5px;font-weight:400;color:#1a1a1a;">14,675</div>
<div class="t r" style="right:185.70px;top:1085.88px;font-size:16.5px;font-weight:400;color:#1a1a1a;">14,914</div>
<div class="t r" style="right:98.70px;top:1085.88px;font-size:16.5px;font-weight:400;color:#1a1a1a;">15,017</div>
<div class="t r" style="right:11.30px;top:1085.88px;font-size:16.5px;font-weight:400;color:#1a1a1a;">15,280</div>
<div class="t" style="left:26.50px;top:1109.63px;font-size:16.5px;font-weight:400;color:#1a1a1a;">Nonstore retailers</div>
<div class="t r" style="right:623.70px;top:1109.63px;font-size:16.5px;font-weight:400;color:#1a1a1a;">87,917</div>
<div class="t r" style="right:535.70px;top:1109.63px;font-size:16.5px;font-weight:400;color:#1a1a1a;">88,003</div>
<div class="t r" style="right:448.50px;top:1109.63px;font-size:16.5px;font-weight:400;color:#1a1a1a;">83,934</div>
<div class="t r" style="right:361.00px;top:1109.63px;font-size:16.5px;font-weight:400;color:#1a1a1a;">88,903</div>
<div class="t r" style="right:273.00px;top:1109.63px;font-size:16.5px;font-weight:400;color:#1a1a1a;">88,532</div>
<div class="t r" style="right:185.70px;top:1109.63px;font-size:16.5px;font-weight:400;color:#1a1a1a;">91,875</div>
<div class="t r" style="right:98.70px;top:1109.63px;font-size:16.5px;font-weight:400;color:#1a1a1a;">90,463</div>
<div class="t r" style="right:11.30px;top:1109.63px;font-size:16.5px;font-weight:400;color:#1a1a1a;">82,596</div>
<div class="t" style="left:12.70px;top:1133.38px;font-size:16.5px;font-weight:400;color:#1a1a1a;">Food serv. &amp; drinking places</div>
<div class="t r" style="right:623.70px;top:1133.38px;font-size:16.5px;font-weight:400;color:#1a1a1a;">69,338</div>
<div class="t r" style="right:535.70px;top:1133.38px;font-size:16.5px;font-weight:400;color:#1a1a1a;">71,017</div>
<div class="t r" style="right:448.50px;top:1133.38px;font-size:16.5px;font-weight:400;color:#1a1a1a;">72,059</div>
<div class="t r" style="right:361.00px;top:1133.38px;font-size:16.5px;font-weight:400;color:#1a1a1a;">72,090</div>
<div class="t r" style="right:273.00px;top:1133.38px;font-size:16.5px;font-weight:400;color:#1a1a1a;">72,766</div>
<div class="t r" style="right:185.70px;top:1133.38px;font-size:16.5px;font-weight:400;color:#1a1a1a;">72,714</div>
<div class="t r" style="right:98.70px;top:1133.38px;font-size:16.5px;font-weight:400;color:#1a1a1a;">73,135</div>
<div class="t r" style="right:11.30px;top:1133.38px;font-size:16.5px;font-weight:400;color:#1a1a1a;">72,531</div>
<div class="t" style="left:12.70px;top:1157.13px;font-size:16.5px;font-weight:400;color:#1a1a1a;">Core*</div>
<div class="t r" style="right:623.70px;top:1157.13px;font-size:16.5px;font-weight:400;color:#1a1a1a;">408,381</div>
<div class="t r" style="right:535.70px;top:1157.13px;font-size:16.5px;font-weight:400;color:#1a1a1a;">415,247</div>
<div class="t r" style="right:448.50px;top:1157.13px;font-size:16.5px;font-weight:400;color:#1a1a1a;">410,072</div>
<div class="t r" style="right:361.00px;top:1157.13px;font-size:16.5px;font-weight:400;color:#1a1a1a;">419,303</div>
<div class="t r" style="right:273.00px;top:1157.13px;font-size:16.5px;font-weight:400;color:#1a1a1a;">420,594</div>
<div class="t r" style="right:185.70px;top:1157.13px;font-size:16.5px;font-weight:400;color:#1a1a1a;">426,911</div>
<div class="t r" style="right:98.70px;top:1157.13px;font-size:16.5px;font-weight:400;color:#1a1a1a;">425,414</div>
<div class="t r" style="right:11.30px;top:1157.13px;font-size:16.5px;font-weight:400;color:#1a1a1a;">413,955</div>
<div class="l" style="left:8px;top:1178.60px;width:975.50px;height:2px;background:#a4a4a4"></div>
<div class="t" style="left:12.70px;top:1179.75px;font-size:14px;font-weight:400;color:#444;letter-spacing:0.33px">* Core sales excludes sales at building material and supply dealers, auto and motor vehicle dealers and gasoline stations.</div>
<div class="t" style="left:12.70px;top:1199.54px;font-size:12px;font-weight:400;color:#505050;">Source: IHS Markit</div>
<div class="t r" style="right:12.00px;top:1199.54px;font-size:12px;font-weight:400;color:#505050;">© 2022 IHS Markit</div>
</body></html>
